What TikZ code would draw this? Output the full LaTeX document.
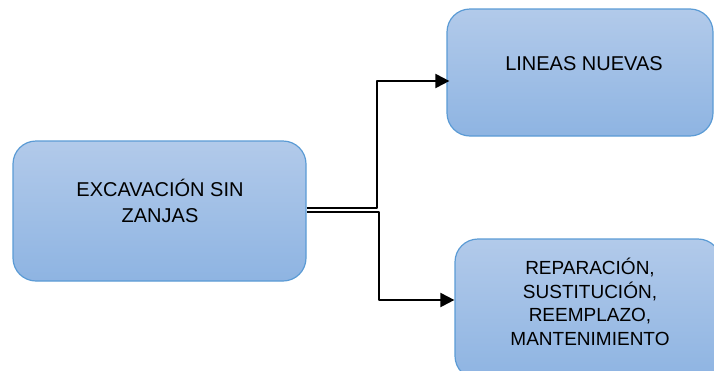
\documentclass[tikz,border=0pt]{standalone}
\usepackage{fontspec}
\setmainfont{Liberation Sans}
\usetikzlibrary{arrows.meta,positioning}
\definecolor{borde}{RGB}{91,155,213}
\definecolor{arriba}{RGB}{178,202,234}
\definecolor{abajo}{RGB}{142,180,226}
\tikzset{
  caja/.style={draw=borde,line width=1.2pt,rounded corners=23pt,top color=arriba,bottom color=abajo,inner sep=0pt},
  texto/.style={align=center,inner sep=0pt,font=\fontsize{20}{26}\selectfont},
  flecha/.style={line width=2pt,-{Triangle[length=14pt,width=14pt]}},
}
\begin{document}
\begin{tikzpicture}[x=1pt,y=-1pt,line join=round]
	  \clip (0,0) rectangle (714,370);
	  \foreach \n/\x/\y/\w/\h in {exc/159.5/211/293/140,lin/580/72.5/266/127,rep/588/309/266/140}{
	      \node[caja,minimum width=\w pt,minimum height=\h pt] (\n) at (\x,\y) {};
	  }
	  \node[texto] (t-exc) at (160,201) {EXCAVACIÓN SIN\\ZANJAS};
	  \node[texto] (t-lin) at (584,63.5) {LINEAS NUEVAS};
	  \node[texto,font=\fontsize{19}{23.5}\selectfont] (t-rep) at (590,302) {REPARACIÓN,\\SUSTITUCIÓN,\\REEMPLAZO,\\MANTENIMIENTO};
	  \path (378,0) coordinate (bus);
	  \draw[flecha] ([yshift=3pt]exc.east) -| ([xshift=-0.7pt,yshift=-8.5pt]bus |- lin.west) -- ([xshift=3pt,yshift=-8.5pt]lin.west);
	  \draw[flecha] ([yshift=-1pt]exc.east) -| ([xshift=0.7pt,yshift=9pt]bus |- rep.west) -- ([yshift=9pt]rep.west);
\end{tikzpicture}
\end{document}
